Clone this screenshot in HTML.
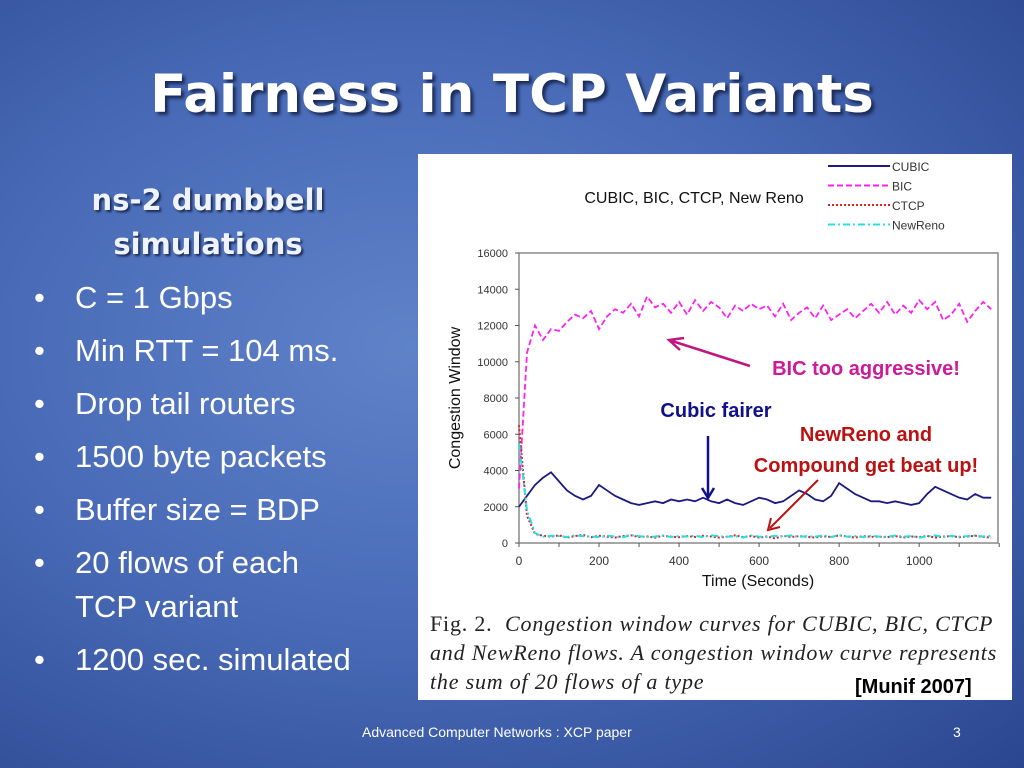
<!DOCTYPE html>
<html><head><meta charset="utf-8">
<style>
body{margin:0;width:1024px;height:768px;overflow:hidden;font-family:"Liberation Sans",sans-serif}
#slide{position:relative;width:1024px;height:768px;background:radial-gradient(ellipse at 40% 45%,#5f82c9 0%,#4a6cb8 45%,#2b4690 100%)}
#title{position:absolute;left:0;width:1024px;top:64px;text-align:center;font:bold 53px "DejaVu Sans",sans-serif;color:#fff;text-shadow:3px 3px 3px #1a2a55}
#sub{position:absolute;left:40px;width:336px;top:178px;text-align:center;font:bold 29px/44px "DejaVu Sans",sans-serif;color:#eef3ff;text-shadow:2px 2px 2px #1a2a55}
ul{position:absolute;left:30px;top:276px;margin:0;padding:0;list-style:none;color:#fff;font-size:31px}
li{position:relative;padding-left:45px;line-height:44px;margin-bottom:9px}
li:before{content:"•";position:absolute;left:4px}
#foot{position:absolute;left:362px;top:724px;font-size:14px;color:#fff}
#pg{position:absolute;left:953px;top:724px;font-size:14px;color:#fff}
#fig{position:absolute;left:418px;top:154px;width:594px;height:546px;background:#fff}
#cap{position:absolute;left:430px;top:609px;font:italic 22px/29px "Liberation Serif",serif;letter-spacing:0.8px;color:#222;width:590px;white-space:nowrap}
#munif{position:absolute;left:855px;top:676px;font:bold 20px "Liberation Sans",sans-serif;color:#000}
</style></head><body>
<div id="slide">
<div id="title">Fairness in TCP Variants</div>
<div id="sub">ns-2 dumbbell<br>simulations</div>
<ul>
<li>C = 1 Gbps</li>
<li>Min RTT = 104 ms.</li>
<li>Drop tail routers</li>
<li>1500 byte packets</li>
<li>Buffer size = BDP</li>
<li>20 flows of each<br>TCP variant</li>
<li>1200 sec. simulated</li>
</ul>
<div id="fig"></div>
<svg id="chart" width="1024" height="768" style="position:absolute;left:0;top:0" font-family="Liberation Sans, sans-serif"></svg>
<div id="cap"><span style="font-style:normal">Fig. 2.</span>&nbsp; Congestion window curves for CUBIC, BIC, CTCP<br>and NewReno flows. A congestion window curve represents<br>the sum of 20 flows of a type</div>
<div id="munif">[Munif  2007]</div>
<div id="foot">Advanced Computer Networks :  XCP paper</div>
<div id="pg">3</div>
</div>
<script>
const times=[0,20,40,60,80,100,120,140,160,180,200,220,240,260,280,300,320,340,360,380,400,420,440,460,480,500,520,540,560,580,600,620,640,660,680,700,720,740,760,780,800,820,840,860,880,900,920,940,960,980,1000,1020,1040,1060,1080,1100,1120,1140,1160,1180];
const cubic=[2000,2600,3200,3600,3900,3400,2900,2600,2400,2600,3200,2900,2600,2400,2200,2100,2200,2300,2200,2400,2300,2400,2300,2500,2300,2200,2400,2200,2100,2300,2500,2400,2200,2300,2600,2900,2700,2400,2300,2600,3300,3000,2700,2500,2300,2300,2200,2300,2200,2100,2200,2700,3100,2900,2700,2500,2400,2700,2500,2500];
const bic=[3000,10500,12000,11200,11800,11700,12200,12600,12400,12800,11800,12500,12900,12700,13200,12500,13600,13000,13200,12700,13300,12600,13400,12800,13300,13000,12400,13100,12800,13200,12900,13100,12500,13200,12300,12700,13000,12400,13100,12300,12600,12900,12400,12800,13200,12700,13300,12600,13100,12700,13400,12900,13300,12300,12600,13200,12200,12800,13300,12900];
const ctcp=[6500,1500,500,400,350,420,300,380,450,320,400,350,300,380,420,330,360,300,400,350,320,380,330,400,360,300,350,420,330,380,300,360,250,400,330,380,340,300,370,330,420,360,300,380,340,350,320,380,300,360,330,390,300,350,380,320,360,400,330,300];
const newreno=[5500,1800,550,350,400,380,330,420,380,350,330,400,360,320,430,380,330,360,410,330,380,350,400,320,430,370,340,380,300,420,350,330,400,360,420,330,380,350,420,330,440,350,380,320,400,360,340,410,350,380,300,360,420,330,390,350,380,420,360,400];
const yTicks=[0,2000,4000,6000,8000,10000,12000,14000,16000];
const xTicks=[0,200,400,600,800,1000];
const X0=519,X1=998,Y0=543,Y1=253,XMAX=1197,YMAX=16000;
const xs=v=>X0+(v/XMAX)*(X1-X0), ys=v=>Y0-(v/YMAX)*(Y0-Y1);
const svg=document.getElementById('chart'),NS='http://www.w3.org/2000/svg';
function mk(t,a){const e=document.createElementNS(NS,t);for(const k in a)e.setAttribute(k,a[k]);svg.appendChild(e);return e;}
let e=mk('rect',{x:X0,y:Y1,width:X1-X0,height:Y0-Y1,fill:'none',stroke:'#888','stroke-width':1.5});


yTicks.forEach(v=>{const t=mk('text',{x:X0-11,y:ys(v)+4,'font-size':11,'text-anchor':'end',fill:'#333'});t.textContent=v;


mk('line',{x1:X0-4,x2:X0,y1:ys(v),y2:ys(v),stroke:'#555'});});
xTicks.forEach(v=>{const t=mk('text',{x:xs(v),y:Y0+22,'font-size':12,'text-anchor':'middle',fill:'#333'});t.textContent=v;

});
for(let v=0;v<=1200;v+=100)mk('line',{x1:xs(v),x2:xs(v),y1:Y0,y2:Y0+4,stroke:'#555'});
let t=mk('text',{x:758,y:586,'font-size':16,'text-anchor':'middle',fill:'#111'});t.textContent='Time (Seconds)';


t=mk('text',{x:460,y:398,'font-size':16,'text-anchor':'middle',fill:'#111',transform:'rotate(-90 460 398)'});t.textContent='Congestion Window';


t=mk('text',{x:694,y:203,'font-size':16,'text-anchor':'middle',fill:'#111'});t.textContent='CUBIC, BIC, CTCP, New Reno';


const series=[['cubic',cubic,'#1a1a80','',1.8],['bic',bic,'#ff22ee','6,3',1.8],['ctcp',ctcp,'#dd2222','2,2',2],['newreno',newreno,'#22e0e8','7,3,2,3',2]];
series.forEach(([n,d,c,da,w])=>{const p=mk('polyline',{points:d.map((v,i)=>xs(times[i])+','+ys(v)).join(' '),fill:'none',stroke:c,'stroke-width':w,'stroke-dasharray':da});

});
const legNames=['CUBIC','BIC','CTCP','NewReno'];
legNames.forEach((n,i)=>{const y=166+i*19.5;const s=series[i];mk('line',{x1:828,x2:890,y1:y,y2:y,stroke:s[2],'stroke-width':2,'stroke-dasharray':s[3]});
const lt=mk('text',{x:892,y:y+5,'font-size':12,fill:'#333'});lt.textContent=n;

});
function ann(txt,x,y,c,name,fs){const a=mk('text',{x:x,y:y,'font-size':fs||20,'font-weight':'bold',fill:c,'text-anchor':'middle'});a.textContent=txt;

}
ann('BIC too aggressive!',866,375,'#cc1a99','annotation-bic');
ann('Cubic  fairer',716,417,'#10108a','annotation-cubic');
ann('NewReno and',866,441,'#bb1111','annotation-newreno');
ann('Compound get  beat up!',866,472,'#bb1111','annotation-compound');
mk('line',{x1:750,y1:366,x2:672,y2:341,stroke:'#c0167f','stroke-width':2.5});
mk('polyline',{points:'684,338 669,340 680,350',fill:'none',stroke:'#c0167f','stroke-width':2.5});
mk('line',{x1:708,y1:436,x2:708,y2:496,stroke:'#10108a','stroke-width':2.5});
mk('polyline',{points:'702,488 708,498 714,488',fill:'none',stroke:'#10108a','stroke-width':2.5});
mk('line',{x1:818,y1:480,x2:770,y2:528,stroke:'#bb1111','stroke-width':2});
mk('polyline',{points:'771,518 768,530 780,527',fill:'none',stroke:'#bb1111','stroke-width':2});
</script>
</body></html>
